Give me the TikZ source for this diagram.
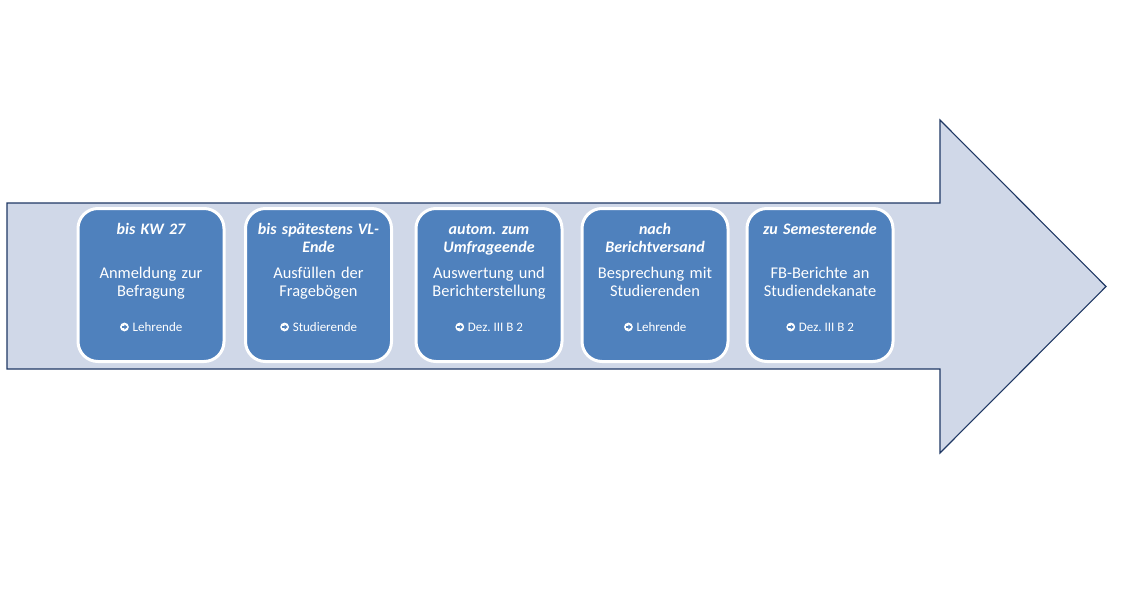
\documentclass[tikz,border=0pt]{standalone}
\usepackage{fontspec}
\setmainfont{Carlito}
\usetikzlibrary{calc}
\definecolor{boxblue}{HTML}{4F81BD}
\definecolor{arrowfill}{HTML}{D0D8E8}
\definecolor{arrowline}{HTML}{1F3864}
\tikzset{
  bigarrow/.style={draw=arrowline, fill=arrowfill, line width=1.1pt, line join=miter},
  stepbox/.style={draw=white, fill=boxblue, line width=3pt, rounded corners=20pt,
    minimum width=146pt, minimum height=153pt, inner sep=0pt},
  titletext/.style={text=white, font=\fontsize{16}{18}\selectfont\bfseries\itshape\frenchspacing,
    text width=146pt, align=center, inner sep=0pt, anchor=base},
  bodytext/.style={text=white, font=\fontsize{16.4}{18.5}\selectfont\frenchspacing,
    text width=146pt, align=center, inner sep=0pt, anchor=base},
  foottext/.style={text=white, font=\fontsize{13}{15}\selectfont\frenchspacing,
    inner sep=0pt, anchor=base},
  symcirc/.style={circle, fill=white, minimum size=8.8pt, inner sep=0pt,
    path picture={
      \fill[boxblue] ($(path picture bounding box.center)+(-2.9,-0.85)$) rectangle ($(path picture bounding box.center)+(0.4,0.85)$);
      \fill[boxblue] ($(path picture bounding box.center)+(0.0,-2.5)$) -- ($(path picture bounding box.center)+(3.0,0)$) -- ($(path picture bounding box.center)+(0.0,2.5)$) -- cycle;
    }}
}
\begin{document}
\begin{tikzpicture}[x=1pt,y=-1pt]
\useasboundingbox (0,0) rectangle (1125,600);
\draw[bigarrow] (7,203) -- (940,203) -- (940,120) -- (1106,286.5) -- (940,453) -- (940,369) -- (7,369) -- cycle;

\node[stepbox] (b1) at (151,285) {};
\node[stepbox] (b2) at (318.5,285) {};
\node[stepbox] (b3) at (489,285) {};
\node[stepbox] (b4) at (655,285) {};
\node[stepbox] (b5) at (820,285) {};

\node[titletext] (t1) at ($(b1.center)+(0,-51)$) {bis KW 27};
\node[titletext] (t2) at ($(b2.center)+(0,-51)$) {bis spätestens VL-\\Ende};
\node[titletext] (t3) at ($(b3.center)+(0,-51)$) {autom. zum\\Umfrageende};
\node[titletext] (t4) at ($(b4.center)+(0,-51)$) {nach\\Berichtversand};
\node[titletext] (t5) at ($(b5.center)+(0,-51)$) {zu Semesterende};

\node[bodytext] (m1) at ($(b1.center)+(0,-7)$) {Anmeldung zur\\Befragung};
\node[bodytext] (m2) at ($(b2.center)+(0,-7)$) {Ausfüllen der\\Fragebögen};
\node[bodytext] (m3) at ($(b3.center)+(0,-7)$) {Auswertung und\\Berichterstellung};
\node[bodytext] (m4) at ($(b4.center)+(0,-7)$) {Besprechung mit\\Studierenden};
\node[bodytext] (m5) at ($(b5.center)+(0,-7)$) {FB-Berichte an\\Studiendekanate};

\node[foottext] (f1) at ($(b1.center)+(6.5,46)$) {Lehrende};
\node[foottext] (f2) at ($(b2.center)+(6.5,46)$) {Studierende};
\node[foottext] (f3) at ($(b3.center)+(6.5,46)$) {Dez. III B 2};
\node[foottext] (f4) at ($(b4.center)+(6.5,46)$) {Lehrende};
\node[foottext] (f5) at ($(b5.center)+(6.5,46)$) {Dez. III B 2};

\node[symcirc] (s1) at ($(f1.base west)+(-8,-4)$) {};
\node[symcirc] (s2) at ($(f2.base west)+(-8,-4)$) {};
\node[symcirc] (s3) at ($(f3.base west)+(-8,-4)$) {};
\node[symcirc] (s4) at ($(f4.base west)+(-8,-4)$) {};
\node[symcirc] (s5) at ($(f5.base west)+(-8,-4)$) {};
\end{tikzpicture}
\end{document}
